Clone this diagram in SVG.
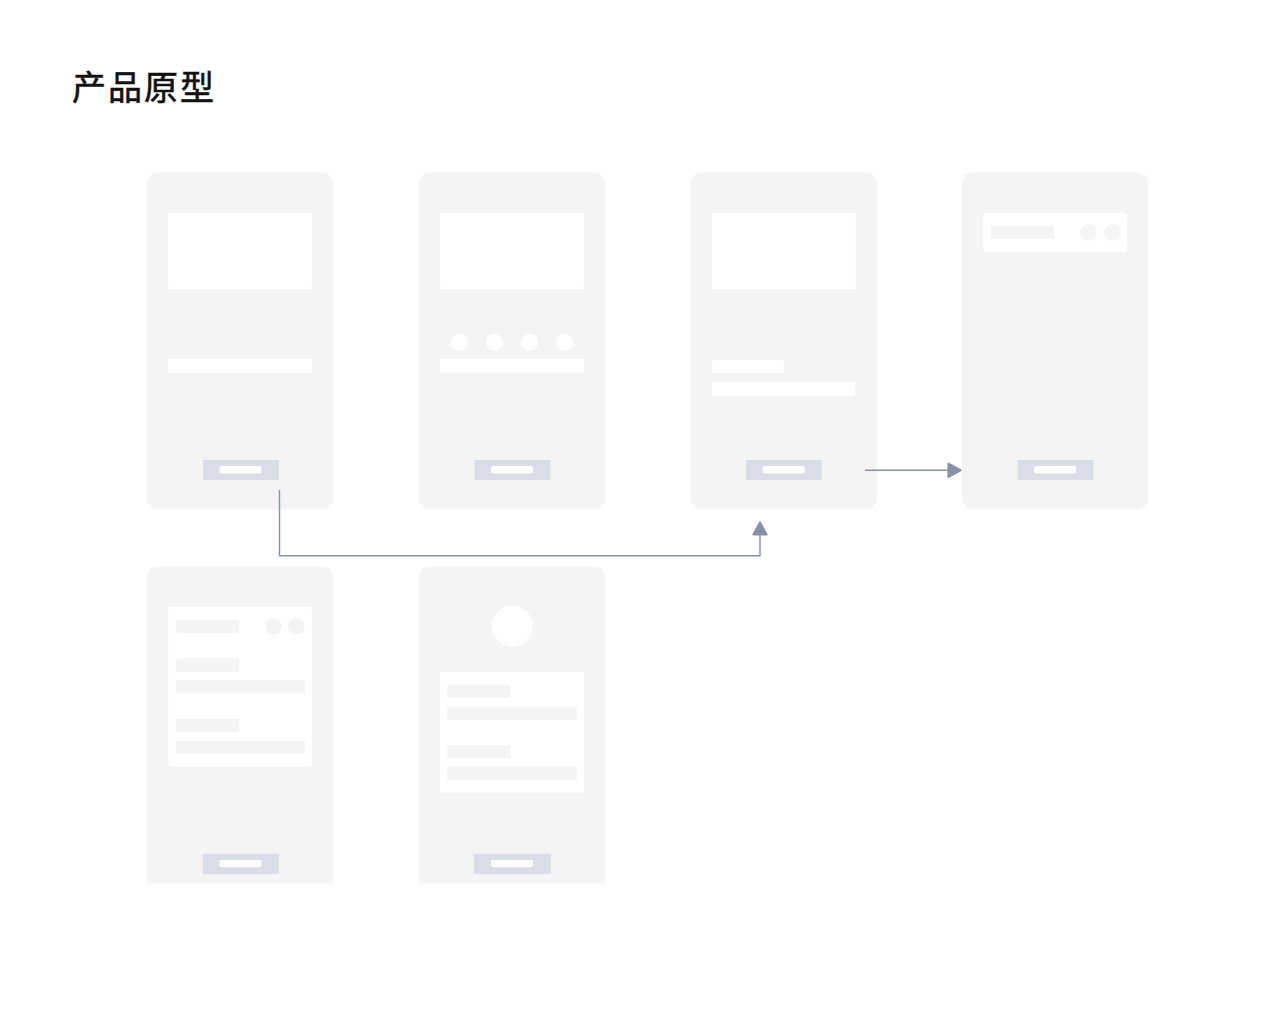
<svg xmlns="http://www.w3.org/2000/svg" width="1280" height="1028" viewBox="0 0 1280 1028">
<defs>
<style>
.phone{fill:#f4f4f4}
.w{fill:#ffffff}
.g{fill:#f4f4f4}
.btn{fill:#d8dde7}
.btnin{fill:#ffffff}
.conn{fill:none;stroke:#8790a6;stroke-width:1.4}
.title{font-family:"Noto Sans CJK SC","Noto Sans",sans-serif;font-size:34px;font-weight:400;letter-spacing:2px;fill:#111111;stroke:#111111;stroke-width:0.6}
</style>
<marker id="arr" markerUnits="userSpaceOnUse" markerWidth="18" markerHeight="18" refX="1" refY="8" orient="auto" viewBox="0 0 18 16">
<path d="M1.5,1.5 L13.5,8 L1.5,14.5 Z" fill="#8790a6" stroke="#8790a6" stroke-width="2.2" stroke-linejoin="round"/>
</marker>
</defs>
<rect width="1280" height="1028" fill="#ffffff"/>
<text class="title" x="72" y="100">产品原型</text>

<g id="phone1" transform="translate(147,172.5)">
<rect class="phone" x="0" y="0" width="186" height="337" rx="11"/>
<rect class="w" x="21" y="40.5" width="144" height="76" rx="2"/>
<rect class="w" x="21" y="186.5" width="144" height="14" rx="1"/>
<rect class="btn" x="56" y="287.5" width="76" height="20"/>
<rect class="btnin" x="72.5" y="293.5" width="42" height="7.5" rx="2"/>
</g>

<g id="phone2" transform="translate(419,172.5)">
<rect class="phone" x="0" y="0" width="186" height="337" rx="11"/>
<rect class="w" x="21" y="40.5" width="144" height="76" rx="2"/>
<circle class="w" cx="40.3" cy="169.8" r="8.6"/>
<circle class="w" cx="75.3" cy="169.8" r="8.6"/>
<circle class="w" cx="110.7" cy="169.8" r="8.6"/>
<circle class="w" cx="145.7" cy="169.8" r="8.6"/>
<rect class="w" x="21" y="186.5" width="144" height="13.5" rx="1"/>
<rect class="btn" x="55.5" y="287.5" width="76" height="20"/>
<rect class="btnin" x="72" y="293.5" width="42" height="7.5" rx="2"/>
</g>

<g id="phone3" transform="translate(690.7,172.5)">
<rect class="phone" x="0" y="0" width="186" height="337" rx="11"/>
<rect class="w" x="21" y="40.5" width="144" height="76" rx="2"/>
<rect class="w" x="21.3" y="187.2" width="71.7" height="13.3" rx="1"/>
<rect class="w" x="21.3" y="209.8" width="143.3" height="13.4" rx="1"/>
<rect class="btn" x="55.3" y="287.5" width="75.7" height="20"/>
<rect class="btnin" x="72" y="293.5" width="42" height="7.5" rx="2"/>
</g>

<g id="phone4" transform="translate(962,172.5)">
<rect class="phone" x="0" y="0" width="186" height="337" rx="11"/>
<rect class="w" x="21.3" y="40.5" width="143.7" height="39" rx="2"/>
<rect class="g" x="29" y="53.5" width="63" height="13" rx="1"/>
<circle class="g" cx="126.7" cy="59.8" r="8.3"/>
<circle class="g" cx="150.7" cy="59.8" r="8.3"/>
<rect class="btn" x="55.5" y="287.5" width="76" height="20"/>
<rect class="btnin" x="72" y="293.5" width="42" height="7.5" rx="2"/>
</g>

<g id="phone5" transform="translate(147,566.7)">
<path class="phone" d="M0,11 A11,11 0 0 1 11,0 H175 A11,11 0 0 1 186,11 V316.6 H0 Z"/>
<rect class="w" x="21.3" y="40.3" width="143.7" height="159.7" rx="2"/>
<rect class="g" x="29" y="53.3" width="63" height="12.7" rx="1"/>
<circle class="g" cx="126.7" cy="59.6" r="8.3"/>
<circle class="g" cx="149.3" cy="59.6" r="8.3"/>
<rect class="g" x="29" y="91.6" width="63" height="13.4" rx="1"/>
<rect class="g" x="29" y="113.3" width="129" height="13.7"/>
<rect class="g" x="29" y="152.3" width="63" height="13" rx="1"/>
<rect class="g" x="29" y="174.3" width="129" height="12.7"/>
<rect class="btn" x="55.7" y="287" width="76" height="20.3"/>
<rect class="btnin" x="72.3" y="293.3" width="42" height="7.3" rx="2"/>
</g>

<g id="phone6" transform="translate(419,566.7)">
<path class="phone" d="M0,11 A11,11 0 0 1 11,0 H175 A11,11 0 0 1 186,11 V316.6 H0 Z"/>
<circle class="w" cx="93.3" cy="59.6" r="20.6"/>
<rect class="w" x="21" y="105" width="144" height="121"/>
<rect class="g" x="28.3" y="118" width="63" height="13" rx="1"/>
<rect class="g" x="28.3" y="140" width="129.4" height="13.3"/>
<rect class="g" x="28.3" y="178.3" width="63" height="13.3" rx="1"/>
<rect class="g" x="28.3" y="200" width="129.4" height="13.6"/>
<rect class="btn" x="54.7" y="287" width="77" height="20.3"/>
<rect class="btnin" x="72" y="293.3" width="42" height="7.3" rx="2"/>
</g>

<g id="connectors">
<path class="conn" d="M279.5,490 V555.8 H760 V535" marker-end="url(#arr)"/>
<path class="conn" d="M865,470.3 H948" marker-end="url(#arr)"/>
</g>
</svg>
